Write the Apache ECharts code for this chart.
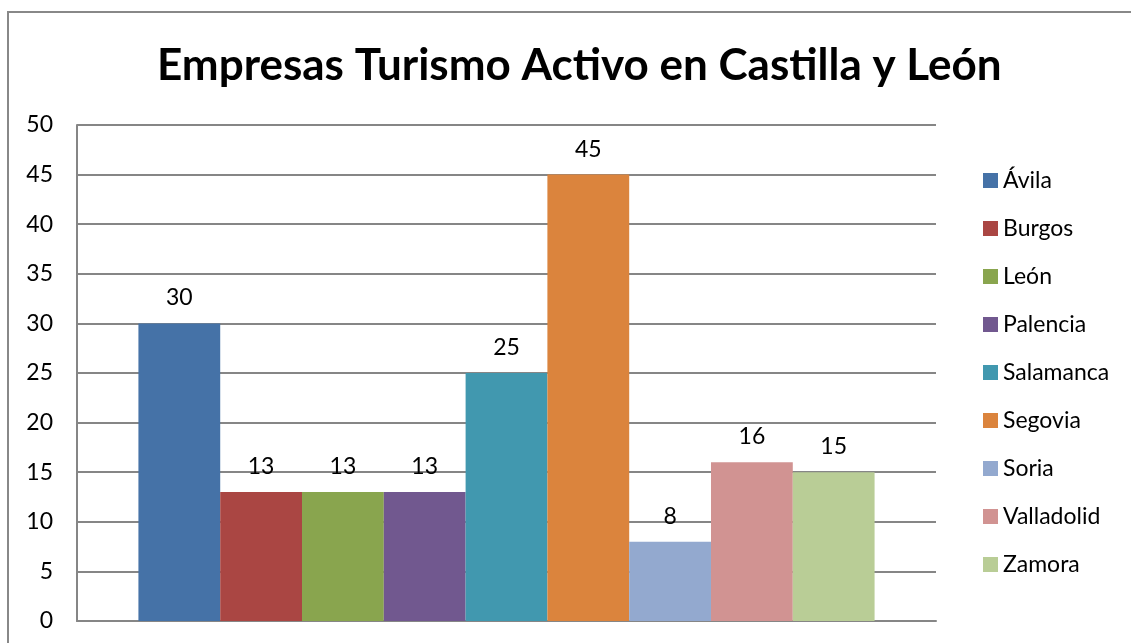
<!DOCTYPE html>
<html>
<head>
<meta charset="utf-8">
<script src="https://cdn.jsdelivr.net/npm/echarts@6/dist/echarts.min.js"></script>
<style>
  html, body { margin: 0; padding: 0; background: #fff; }
  #chart { width: 1131px; height: 643px; }
</style>
</head>
<body>
<div id="chart"></div>
<script>
const provinces = ['Ávila', 'Burgos', 'León', 'Palencia', 'Salamanca', 'Segovia', 'Soria', 'Valladolid', 'Zamora'];
const companies = [30, 13, 13, 13, 25, 45, 8, 16, 15];
const colors = ['#4572A7', '#AA4643', '#89A54E', '#71588F', '#4198AF', '#DB843D', '#93A9CF', '#D19392', '#B9CD96'];
const yTicks = { min: 0, max: 50, interval: 5 };

const font = 'Lato, "Open Sans", sans-serif';
const chart = echarts.init(document.getElementById('chart'));

const series = provinces.map((name, i) => ({
    name: name,
    type: 'bar',
    data: [companies[i]],
    barGap: '0%',
    barCategoryGap: '14.3%',
    itemStyle: { color: colors[i] },
    label: {
        show: true,
        position: 'top',
        distance: 14,
        color: '#000',
        fontSize: 23,
        fontFamily: font
    }
}));

chart.setOption({
    animation: false,
    title: {
        text: 'Empresas Turismo Activo en Castilla y León',
        left: 152,
        top: 39,
        textStyle: { fontSize: 44, fontWeight: 'bold', color: '#000', fontFamily: font }
    },
    graphic: [{
        type: 'rect',
        shape: { x: 8, y: 12, width: 1300, height: 800 },
        style: { fill: 'none', stroke: '#888', lineWidth: 2 },
        silent: true
    }],
    legend: {
        orient: 'vertical',
        left: 978,
        top: 164,
        itemWidth: 15,
        itemHeight: 15,
        itemGap: 25,
        itemTextGap: 7,
        icon: 'rect',
        textStyle: { fontSize: 23, lineHeight: 23, color: '#000', fontFamily: font },
        data: provinces
    },
    grid: { left: 77, top: 125, right: 195, bottom: 22 },
    xAxis: {
        type: 'category',
        data: [''],
        axisLine: { lineStyle: { color: '#868686', width: 2 } },
        axisTick: { show: false },
        axisLabel: { show: false }
    },
    yAxis: {
        type: 'value',
        min: yTicks.min,
        max: yTicks.max,
        interval: yTicks.interval,
        axisLine: { show: true, lineStyle: { color: '#868686', width: 2 } },
        axisTick: { show: false },
        axisLabel: { color: '#000', fontSize: 23, fontFamily: font, margin: 24 },
        splitLine: { lineStyle: { color: '#868686', width: 2 } }
    },
    series: series
});
</script>
</body>
</html>
